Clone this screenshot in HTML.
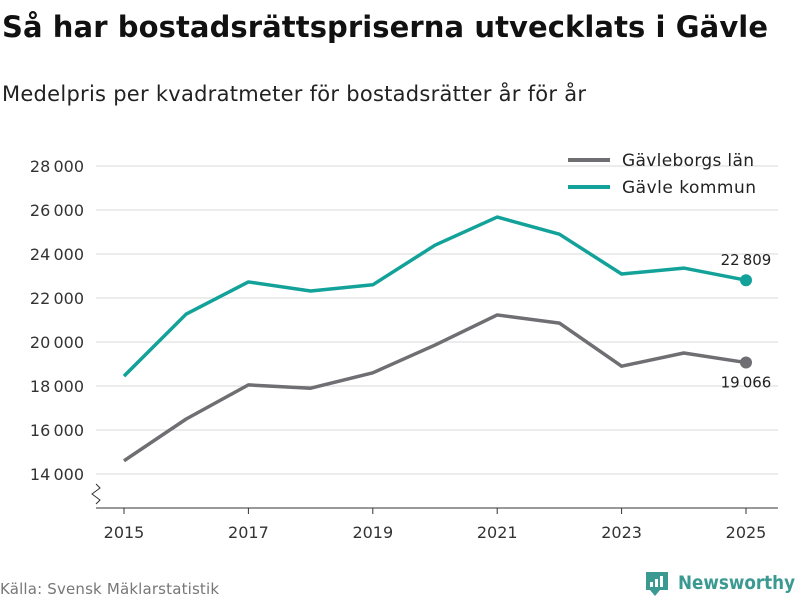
<!DOCTYPE html>
<html><head><meta charset="utf-8"><style>
body{margin:0;background:#fff;font-family:"DejaVu Sans","Liberation Sans",sans-serif;}
#wrap{position:relative;width:800px;height:600px;overflow:hidden;}
</style></head><body>
<div id="wrap">
<svg id="chart" width="800" height="600" xmlns="http://www.w3.org/2000/svg">
<text x="2" y="37" font-size="29" font-weight="bold" fill="#111" textLength="766">Så har bostadsrättspriserna utvecklats i Gävle</text>
<text x="2" y="101" font-size="21" fill="#222" textLength="584">Medelpris per kvadratmeter för bostadsrätter år för år</text>
<g id="grid"></g><g id="series"></g>
<line x1="96" y1="508" x2="778" y2="508" stroke="#333" stroke-width="1"/>
<path d="M96,484 L100,488 L92,494 L100,500 L96,504" fill="none" stroke="#333" stroke-width="1"/>
<g>
<line x1="568" y1="160" x2="610" y2="160" stroke="#6f6e72" stroke-width="4"/>
<text x="622" y="166" font-size="17" fill="#222" textLength="132">Gävleborgs län</text>
<line x1="568" y1="187" x2="610" y2="187" stroke="#13a29a" stroke-width="4"/>
<text x="622" y="193" font-size="17" fill="#222" textLength="134">Gävle kommun</text>
</g>
<text x="0" y="594" font-size="15" fill="#777" textLength="219">Källa: Svensk Mäklarstatistik</text>
<g>
<path d="M646,572 h22 v18 h-8 l-5,6 l-5,-6 h-4 z" fill="#3a9a92"/>
<rect x="650" y="582" width="3" height="5" fill="#fff"/><rect x="655" y="579" width="3" height="8" fill="#fff"/><rect x="660" y="576" width="3" height="11" fill="#fff"/>
<text x="678" y="589" font-size="19" font-weight="bold" fill="#3a9a92" textLength="117" lengthAdjust="spacingAndGlyphs">Newsworthy</text>
</g>
</svg>
</div>
<script>
const years=[2015,2016,2017,2018,2019,2020,2021,2022,2023,2024,2025];
const kommun=[18450,21270,22730,22320,22600,24400,25680,24900,23090,23360,22809];
const lan=[14600,16500,18050,17900,18600,19860,21230,20860,18900,19500,19066];
const yTicks=[14000,16000,18000,20000,22000,24000,26000,28000];
const xTicks=[2015,2017,2019,2021,2023,2025];
const NS="http://www.w3.org/2000/svg";
const x=v=>124+(v-2015)*62.2;
const y=v=>474-(v-14000)*0.022;
const fmt=v=>String(v).replace(/\B(?=(\d{3})+(?!\d))/g,"\u202f");
function mk(t,a,p){const e=document.createElementNS(NS,t);for(const k in a)e.setAttribute(k,a[k]);p.appendChild(e);return e;}
const grid=document.getElementById('grid'),ser=document.getElementById('series');
yTicks.forEach(v=>{
 const l=mk('line',{x1:96,x2:778,y1:y(v),y2:y(v),stroke:'#d9d9d9','stroke-width':1},grid);
 
 
 const t=mk('text',{x:84,y:y(v)+6,'font-size':16,fill:'#333','text-anchor':'end'},grid);
 t.textContent=fmt(v);
 
 
});
xTicks.forEach(v=>{
 const l=mk('line',{x1:x(v),x2:x(v),y1:508,y2:514,stroke:'#333'},grid);
 
 
 const t=mk('text',{x:x(v),y:538,'font-size':16,fill:'#333','text-anchor':'middle'},grid);
 t.textContent=v;
 
 
});
function draw(vals,color,name,labelDy){
 const d=vals.map((v,i)=>(i?'L':'M')+x(years[i])+','+y(v)).join(' ');
 const p=mk('path',{d:d,fill:'none',stroke:color,'stroke-width':3.5,'stroke-linejoin':'round'},ser);
 
 
 const n=vals.length-1;
 const c=mk('circle',{cx:x(years[n]),cy:y(vals[n]),r:6,fill:color},ser);
 
 
 const t=mk('text',{x:x(years[n]),y:y(vals[n])+labelDy,'font-size':15,fill:'#222','text-anchor':'middle'},ser);
 t.textContent=fmt(vals[n]);
 
 
}
draw(lan,'#6f6e72','gavleborgs-lan',25);
draw(kommun,'#13a29a','gavle-kommun',-15);
</script>
</body></html>
